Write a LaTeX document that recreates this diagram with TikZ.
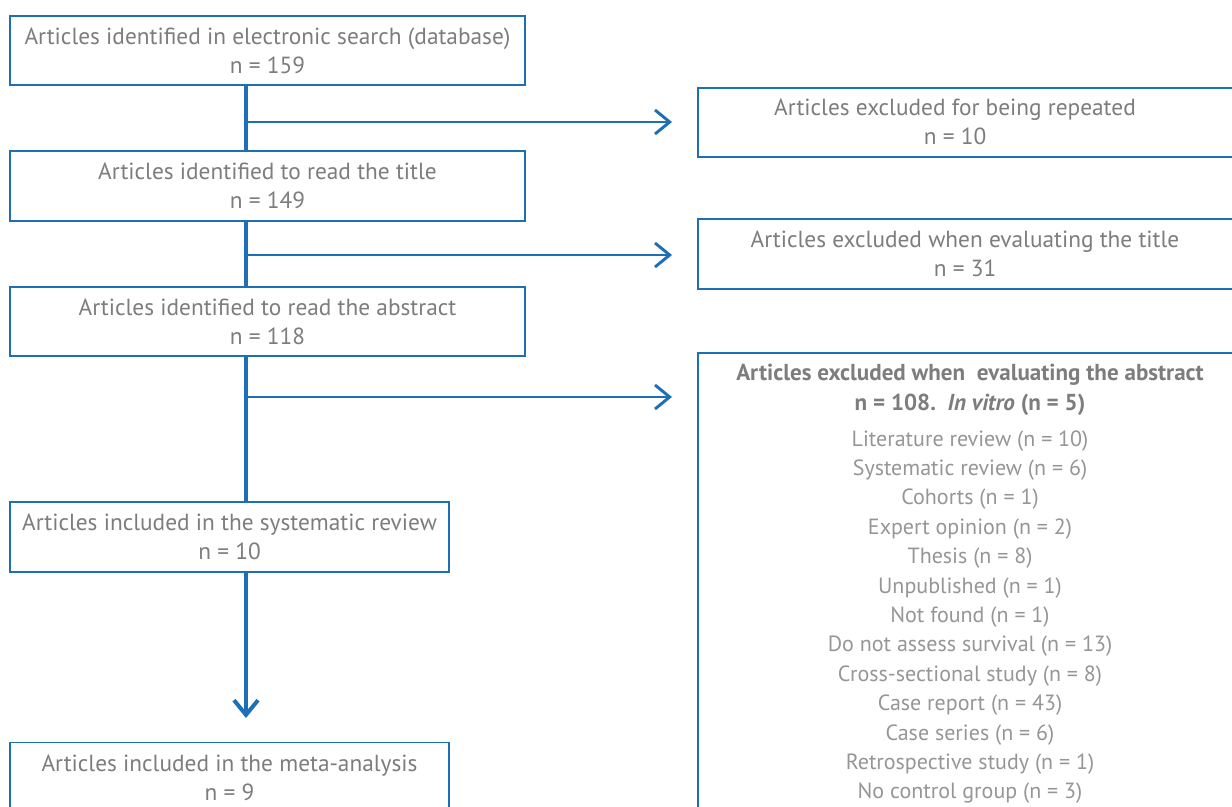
\documentclass[tikz,border=0pt]{standalone}
\usepackage{fontspec}
\setmainfont{PT Sans}
\usetikzlibrary{arrows.meta}
\definecolor{lineblue}{RGB}{30,112,182}
\definecolor{txtgray}{RGB}{125,125,125}
\definecolor{listgray}{RGB}{150,150,150}
\begin{document}
\begin{tikzpicture}[x=0.75pt,y=-0.75pt,
  box/.style={draw=lineblue, fill=white, line width=1.1pt, rectangle, inner sep=0pt,
    text=txtgray, align=center, font=\fontsize{17.5}{21.75}\selectfont},
  rbox/.style={draw=lineblue, fill=white, line width=1.6pt, rectangle, inner sep=0pt, anchor=north west},
  txt/.style={text=txtgray, align=center, font=\fontsize{17.5}{21.75}\selectfont},
  listtxt/.style={text=listgray, align=center, font=\fontsize{16.5}{22.05}\selectfont},
  spine/.style={draw=lineblue, line width=3pt},
  barb/.style={-{Straight Barb[length=11pt,width=18pt]}},
  branch/.style={draw=lineblue, line width=2.2pt, barb}]
\useasboundingbox (0,0) rectangle (1232,807);
\clip (0,0) rectangle (1232,807);
% spine and branches
\coordinate (s0) at (246,84);
\coordinate (s1) at (246,718);
\coordinate (j1) at (246,122); \coordinate (a1) at (672,122);
\coordinate (j2) at (246,255); \coordinate (a2) at (672,255);
\coordinate (j3) at (246,397); \coordinate (a3) at (672,397);
\draw[spine, barb] (s0) -- (s1);
\draw[branch] (j1) -- (a1);
\draw[branch] (j2) -- (a2);
\draw[branch] (j3) -- (a3);
% left boxes
\node[box, line width=2.2pt, minimum width=386.25pt, minimum height=51.75pt] (b1) at (267.5,50.5)
  {Articles identified in electronic search (database)\\n = 159};
\node[box, minimum width=386.25pt, minimum height=52.5pt] (b2) at (267.5,186)
  {Articles identified to read the title\\n = 149};
\node[box, minimum width=386.25pt, minimum height=51.75pt] (b3) at (267.5,321.5)
  {Articles identified to read the abstract\\n = 118};
\node[box, minimum width=329.25pt, minimum height=52.5pt] (b4) at (229.5,537)
  {Articles included in the systematic review\\n = 10};
\node[box, minimum width=329.25pt, minimum height=52.5pt, anchor=north] (b5) at (229.5,742) {};
\node[txt] (b5t) at (229.5,778) {Articles included in the meta-analysis\\n = 9};
% right boxes
\node[rbox, minimum width=420pt, minimum height=51.75pt] (r1) at (697,87) {};
\node[txt] (r1t) at (955,122) {Articles excluded for being repeated\\n = 10};
\node[rbox, minimum width=420pt, minimum height=52.5pt] (r2) at (697,218) {};
\node[txt] (r2t) at (965,253.5) {Articles excluded when evaluating the title\\n = 31};
\node[rbox, minimum width=420pt, minimum height=360pt] (r3) at (697,352) {};
\node[txt, font=\bfseries\fontsize{17.3}{22.5}\selectfont] (r3h) at (970,390)
  {Articles excluded when\ \ evaluating the abstract\\n = 108.\ \ \textit{In vitro} (n = 5)};
\node[listtxt] (r3l) at (970,617)
  {Literature review (n = 10)\\
   Systematic review (n = 6)\\
   Cohorts (n = 1)\\
   Expert opinion (n = 2)\\
   Thesis (n = 8)\\
   Unpublished (n = 1)\\
   Not found (n = 1)\\
   Do not assess survival (n = 13)\\
   Cross-sectional study (n = 8)\\
   Case report (n = 43)\\
   Case series (n = 6)\\
   Retrospective study (n = 1)\\
   No control group (n = 3)};
\end{tikzpicture}
\end{document}
